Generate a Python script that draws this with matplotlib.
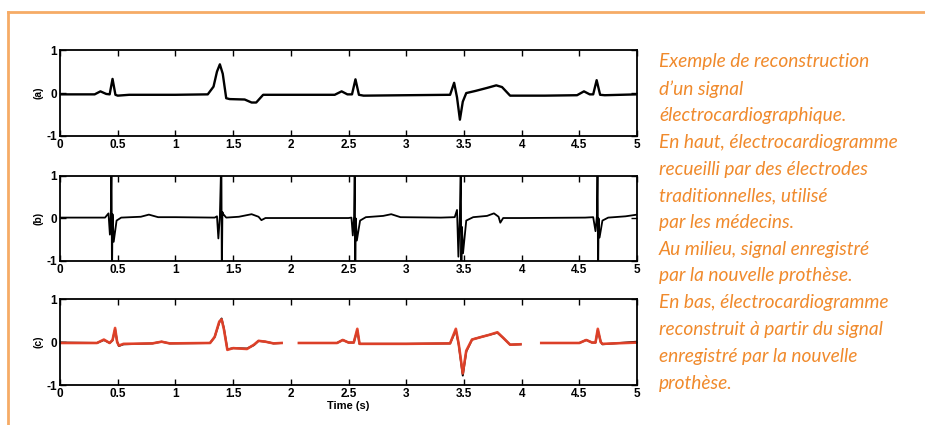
import numpy as np
import matplotlib
matplotlib.use("Agg")
import matplotlib.pyplot as plt
from matplotlib.lines import Line2D

plt.rcParams["axes.unicode_minus"] = False
nan = float("nan")

# (a) reference ECG, traditional electrodes
t_a = [0.00, 0.30, 0.35, 0.40, 0.43, 0.455, 0.48, 0.50, 0.60, 1.00,
       1.28, 1.33, 1.36, 1.385, 1.41, 1.44, 1.47, 1.60, 1.66, 1.70, 1.76,
       2.00, 2.38, 2.44, 2.49, 2.53, 2.56, 2.59, 2.63, 3.00,
       3.38, 3.415, 3.44, 3.465, 3.49, 3.52, 3.60, 3.70, 3.78, 3.83, 3.90,
       4.20, 4.48, 4.54, 4.59, 4.62, 4.65, 4.68, 4.72, 5.00]
ecg_a = [-0.03, -0.03, 0.04, -0.02, -0.03, 0.33, -0.04, -0.06, -0.04, -0.04,
         -0.03, 0.15, 0.50, 0.67, 0.45, -0.12, -0.14, -0.15, -0.22, -0.22, -0.04,
         -0.04, -0.04, 0.04, -0.03, -0.03, 0.32, -0.04, -0.06, -0.05,
         -0.04, 0.24, -0.10, -0.62, -0.20, 0.00, 0.05, 0.12, 0.18, 0.14, -0.06,
         -0.06, -0.05, 0.04, -0.03, -0.03, 0.30, -0.04, -0.05, -0.03]

# (b) signal recorded by the new prosthesis
t_b = [0.00, 0.39, 0.42, 0.432, 0.440, 0.446, 0.450, 0.455, 0.465, 0.490,
       0.53, 0.70, 0.77, 0.85, 1.00, 1.34,
       1.36, 1.372, 1.385, 1.398, 1.402, 1.407, 1.415, 1.44, 1.55, 1.66,
       1.72, 1.745, 1.78, 2.00, 2.50,
       2.525, 2.537, 2.548, 2.554, 2.558, 2.563, 2.572, 2.60, 2.65, 2.80,
       2.87, 2.95, 3.30,
       3.42, 3.44, 3.452, 3.465, 3.473, 3.477, 3.483, 3.492, 3.52, 3.58,
       3.70, 3.76, 3.80, 3.815, 3.84, 4.00, 4.55,
       4.62, 4.64, 4.652, 4.658, 4.662, 4.667, 4.675, 4.70, 4.75, 4.90, 5.00]
ecg_b = [0.02, 0.02, 0.12, -0.38, 0.05, 1.5, -1.5, 0.10, -0.55, -0.05,
         0.02, 0.04, 0.09, 0.03, 0.03, 0.02,
         0.05, -0.47, 0.05, 1.5, -1.5, 0.15, 0.10, 0.02, 0.04, 0.10,
         0.04, -0.04, 0.01, 0.01, 0.01,
         0.02, -0.40, 0.05, 1.5, -1.5, 0.00, -0.52, -0.05, 0.03, 0.06,
         0.10, 0.03, 0.02,
         0.03, 0.20, -0.90, 0.10, 1.5, -1.5, -0.20, -0.82, -0.05, 0.03,
         0.06, 0.12, 0.04, -0.10, 0.01, 0.01, 0.02,
         0.03, -0.30, 0.05, 1.5, -1.5, 0.00, -0.45, -0.05, 0.02, 0.05, 0.09]

# (c) reconstructed ECG (red) over the reference (black)
t_c = [0.00, 0.32, 0.38, 0.43, 0.455, 0.477, 0.495, 0.51, 0.55, 0.80,
       0.88, 0.95, 1.30, 1.34, 1.38, 1.40, 1.42, 1.45, 1.50, 1.62,
       1.68, 1.72, 1.78, 1.85, 1.92, 2.00,
       2.07, 2.40, 2.45, 2.50, 2.545, 2.576, 2.595, 2.65, 3.00,
       3.38, 3.43, 3.455, 3.49, 3.52, 3.57, 3.65, 3.72, 3.79, 3.84,
       3.90, 3.99, 4.10,
       4.17, 4.50, 4.56, 4.61, 4.64, 4.66, 4.685, 4.70, 4.80, 5.00]
ecg_c = [-0.02, -0.02, 0.06, -0.02, 0.05, 0.33, 0.00, -0.08, -0.04, -0.03,
         0.01, -0.03, -0.02, 0.12, 0.48, 0.53, 0.30, -0.18, -0.14, -0.16,
         -0.06, 0.03, 0.01, -0.03, -0.02, nan,
         -0.02, -0.02, 0.05, -0.01, -0.01, 0.31, -0.04, -0.04, -0.04,
         -0.03, 0.31, -0.05, -0.73, -0.20, 0.06, 0.12, 0.17, 0.23, 0.10,
         -0.06, -0.05, nan,
         -0.02, -0.02, 0.05, -0.01, -0.01, 0.31, 0.00, -0.04, -0.03, -0.01]
ecg_c_ref = [-0.01, -0.02, 0.05, -0.02, 0.04, 0.30, 0.01, -0.09, -0.05, -0.03,
             0.01, -0.03, -0.02, 0.12, 0.46, 0.55, 0.32, -0.17, -0.14, -0.15,
             -0.07, 0.03, 0.01, -0.03, -0.02, nan,
             -0.02, -0.02, 0.05, -0.01, -0.01, 0.28, -0.04, -0.04, -0.04,
             -0.03, 0.28, -0.06, -0.78, -0.22, 0.06, 0.12, 0.17, 0.22, 0.10,
             -0.06, -0.05, nan,
             -0.02, -0.02, 0.05, -0.01, -0.01, 0.28, 0.01, -0.05, -0.03, 0.01]

x_ticks = [0, 0.5, 1, 1.5, 2, 2.5, 3, 3.5, 4, 4.5, 5]
x_labels = ["0", "0.5", "1", "1.5", "2", "2.5", "3", "3.5", "4", "4.5", "5"]
y_ticks = [-1, 0, 1]
panel_names = ["(a)", "(b)", "(c)"]

caption = [
    "Exemple de reconstruction",
    "d\u2019un signal",
    "électrocardiographique.",
    "En haut, électrocardiogramme",
    "recueilli par des électrodes",
    "traditionnelles, utilisé",
    "par les médecins.",
    "Au milieu, signal enregistré",
    "par la nouvelle prothèse.",
    "En bas, électrocardiogramme",
    "reconstruit à partir du signal",
    "enregistré par la nouvelle",
    "prothèse.",
]

ORANGE = "#f08a2c"
RED = "#e8432a"

fig = plt.figure(figsize=(9.25, 4.25), dpi=100)

# panel placement in figure fractions (left, bottom, width, height)
boxes = [
    (0.0649, 0.680, 0.6238, 0.202),
    (0.0649, 0.386, 0.6238, 0.200),
    (0.0649, 0.094, 0.6238, 0.202),
]

axes = []
for i, box in enumerate(boxes):
    ax = fig.add_axes(box)
    ax.set_xlim(0, 5)
    ax.set_ylim(-1, 1)
    ax.set_xticks(x_ticks)
    ax.set_xticklabels(x_labels)
    ax.set_yticks(y_ticks)
    ax.tick_params(direction="in", top=True, right=True, length=4, width=1,
                   labelsize=8.5, pad=2)
    for lab in ax.get_xticklabels() + ax.get_yticklabels():
        lab.set_fontweight("bold")
        lab.set_family("Liberation Sans")
    for s in ax.spines.values():
        s.set_linewidth(1.3)
    ax.set_ylabel(panel_names[i], fontsize=7.5, fontweight="bold",
                  family="Liberation Sans", labelpad=2)
    axes.append(ax)

axes[0].plot(t_a, ecg_a, color="black", lw=1.7)
axes[1].plot(t_b, ecg_b, color="black", lw=1.3)
axes[2].plot(t_c, ecg_c_ref, color="black", lw=1.4)
axes[2].plot(t_c, ecg_c, color=RED, lw=1.9, alpha=0.95)
axes[2].set_xlabel("Time (s)", fontsize=8, fontweight="bold",
                   family="Liberation Sans", labelpad=1)

# orange frame (top and left edges)
fig.add_artist(Line2D([8 / 925, 8 / 925], [0, 1 - 12 / 425],
                      transform=fig.transFigure, color="#f6ab66", lw=2))
fig.add_artist(Line2D([8 / 925, 1], [1 - 12 / 425, 1 - 12 / 425],
                      transform=fig.transFigure, color="#f6ab66", lw=2))

# caption on the right
y0 = 1 - 62 / 425
step = 26.75 / 425
for k, line in enumerate(caption):
    fig.text(659 / 925, y0 - k * step, line, color=ORANGE, fontsize=13.8,
             style="italic", family=["Lato", "DejaVu Sans"], va="center",
             ha="left")

fig.savefig("out.png", dpi=100)
